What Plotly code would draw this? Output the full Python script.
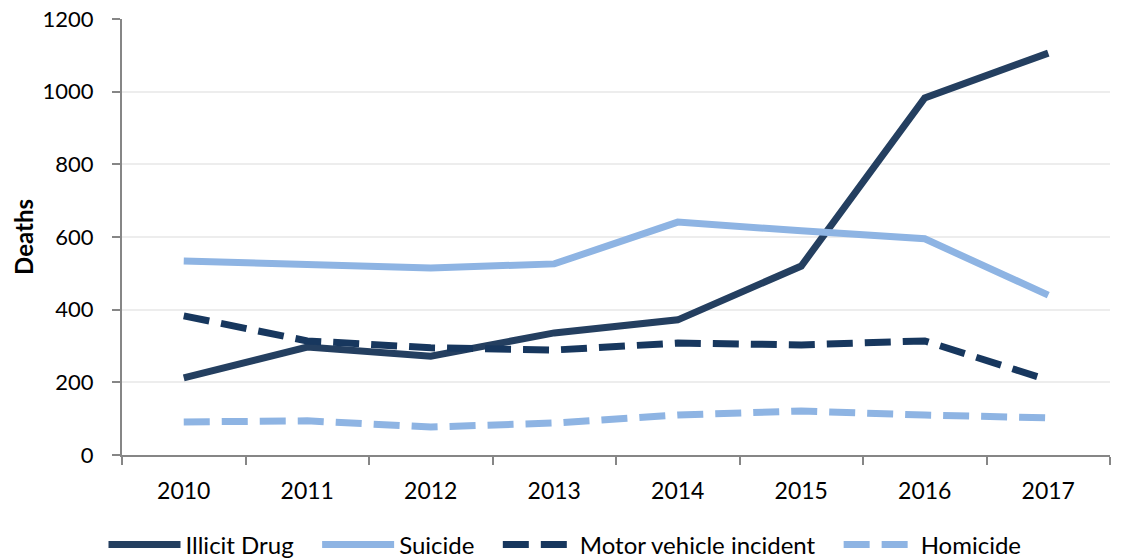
import plotly.graph_objects as go

years = ["2010", "2011", "2012", "2013", "2014", "2015", "2016", "2017"]
illicit_drug = [212, 297, 272, 336, 372, 520, 983, 1106]
suicide = [534, 526, 515, 526, 641, 617, 595, 440]
motor_vehicle = [383, 314, 295, 289, 308, 303, 314, 206]
homicide = [91, 94, 77, 88, 110, 121, 110, 102]
y_ticks = [0, 200, 400, 600, 800, 1000, 1200]
series_names = ["Illicit Drug", "Suicide", "Motor vehicle incident", "Homicide"]

FONT = "Lato"
PAD = "\u00a0\u00a0\u00a0"  # spacing between legend entries

fig = go.Figure()
fig.add_trace(go.Scatter(x=years, y=illicit_drug, name=series_names[0] + PAD, mode="lines",
                         line=dict(color="#243F60", width=7)))
fig.add_trace(go.Scatter(x=years, y=suicide, name=series_names[1] + PAD, mode="lines",
                         line=dict(color="#8EB4E3", width=7)))
fig.add_trace(go.Scatter(x=years, y=motor_vehicle, name=series_names[2] + PAD, mode="lines",
                         line=dict(color="#17375E", width=7, dash="26px,12px")))
fig.add_trace(go.Scatter(x=years, y=homicide, name=series_names[3], mode="lines",
                         line=dict(color="#8EB4E3", width=7, dash="26px,12px")))

fig.update_layout(
    width=1130, height=560,
    margin=dict(l=122, r=20, t=19, b=105),
    paper_bgcolor="white", plot_bgcolor="white",
    font=dict(family=FONT, size=22, color="black"),
    showlegend=True,
    legend=dict(orientation="h", xref="container", x=0.5, xanchor="center",
                yref="container", y=0.027, yanchor="middle", itemwidth=72,
                font=dict(family=FONT, size=24, color="black")),
    xaxis=dict(type="category", showline=True, linecolor="#868686", linewidth=2,
               ticks="outside", tickson="boundaries", ticklen=8, tickcolor="#868686",
               tickwidth=2, showgrid=False, ticklabelstandoff=14, automargin=False,
               tickfont=dict(family=FONT, size=23), range=[-0.5, 7.5]),
    yaxis=dict(range=[0, 1200], tickvals=y_ticks, showline=True, linecolor="#868686",
               linewidth=2, ticks="outside", ticklen=8, tickcolor="#868686", tickwidth=2,
               showgrid=True, gridcolor="#EDEDED", gridwidth=2, zeroline=False,
               ticklabelstandoff=14, tickfont=dict(family=FONT, size=22), automargin=False,
               title=dict(text="<b>Deaths</b>", font=dict(family=FONT, size=24), standoff=2)),
)

fig.write_html("out.html", config={"displayModeBar": False},
               post_script="document.body.style.margin='0';document.body.style.overflow='hidden';")
